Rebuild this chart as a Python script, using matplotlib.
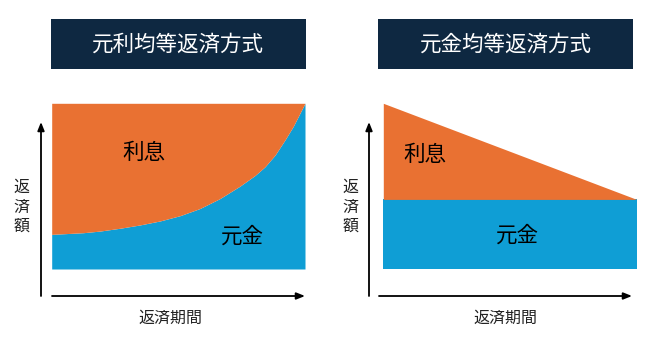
import matplotlib
matplotlib.use("Agg")
import matplotlib.pyplot as plt
from matplotlib.patches import Rectangle

plt.rcParams['font.family'] = ['Noto Sans CJK JP', 'DejaVu Sans']

# ---- data ----
titles = ["元利均等返済方式", "元金均等返済方式"]
interest_label = "利息"
principal_label = "元金"
y_label = "返済額"
x_label = "返済期間"

# 元利均等: principal portion grows over the period, total payment constant
period_equal_payment = [0.0, 0.125, 0.191, 0.270, 0.349, 0.428, 0.507, 0.585, 0.664,
                        0.743, 0.803, 0.842, 0.882, 0.921, 0.954, 0.980, 1.0]
principal_equal_payment = [0.209, 0.219, 0.229, 0.246, 0.266, 0.290, 0.322, 0.365, 0.425,
                           0.500, 0.565, 0.617, 0.688, 0.779, 0.862, 0.940, 1.0]
total_equal_payment = [1.0] * len(period_equal_payment)

# 元金均等: principal constant, interest shrinks linearly
period_equal_principal = [0.0, 1.0]
principal_equal_principal = [0.42, 0.42]
total_equal_principal = [1.0, 0.42]

ORANGE = "#E97132"
BLUE = "#0F9ED5"
NAVY = "#0E2841"

W, H = 650, 337
fig = plt.figure(figsize=(6.5, 3.37), dpi=100)

def fig_rect(x0, y0, x1, y1):
    return [x0 / W, 1 - y1 / H, (x1 - x0) / W, (y1 - y0) / H]

ax1 = fig.add_axes(fig_rect(51.7, 103.3, 305, 269))
ax2 = fig.add_axes(fig_rect(383.3, 103.3, 636.7, 269))

ax1.fill_between(period_equal_payment, 0, principal_equal_payment, color=BLUE, lw=0)
ax1.fill_between(period_equal_payment, principal_equal_payment, total_equal_payment, color=ORANGE, lw=0)
ax2.fill_between(period_equal_principal, 0, principal_equal_principal, color=BLUE, lw=0)
ax2.fill_between(period_equal_principal, principal_equal_principal, total_equal_principal, color=ORANGE, lw=0)

for a in (ax1, ax2):
    a.set_xlim(0, 1)
    a.set_ylim(0, 1)
    a.axis('off')

ov = fig.add_axes([0, 0, 1, 1], zorder=5)
ov.set_xlim(0, W)
ov.set_ylim(H, 0)
ov.axis('off')
ov.patch.set_alpha(0)

# title boxes
for (x0, x1), t in zip([(51, 305.5), (378.3, 632.7)], titles):
    ov.add_patch(Rectangle((x0, 19), x1 - x0, 50.3, facecolor=NAVY, edgecolor='none'))
    ov.text((x0 + x1) / 2, 44.5, t, color='white', fontsize=15.5, ha='center', va='center')

# axes arrows
arrow_kw = dict(arrowstyle='-|>,head_length=0.5,head_width=0.2', color='black', lw=1.3,
                shrinkA=0, shrinkB=0, mutation_scale=10)
for xa, (xs, xe) in [(41, (52, 305)), (369, (379, 632))]:
    ov.annotate('', xy=(xa, 122), xytext=(xa, 296), arrowprops=arrow_kw)
    ov.annotate('', xy=(xe, 296), xytext=(xs, 296), arrowprops=arrow_kw)

# labels
for x, y in [(144, 153), (424.7, 155)]:
    ov.text(x, y, interest_label, fontsize=15.5, ha='center', va='center', color='black')
for x, y in [(242, 236.5), (517.5, 235.5)]:
    ov.text(x, y, principal_label, fontsize=15.5, ha='center', va='center', color='black')
for x in (21.7, 350.7):
    ov.text(x, 207, "\n".join(y_label), fontsize=11.5, ha='center', va='center',
            color='#222222', linespacing=1.2)
for x in (170, 505.5):
    ov.text(x, 318, x_label, fontsize=11.5, ha='center', va='center', color='#222222')

fig.savefig("out.png", dpi=100)
